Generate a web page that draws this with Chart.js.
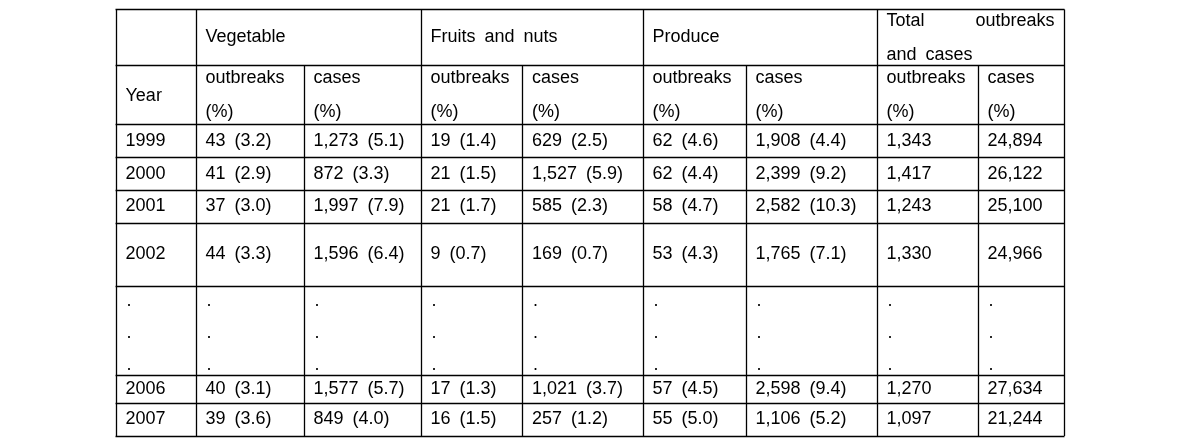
<!DOCTYPE html>
<html>
<head>
<meta charset="utf-8">
<script src="https://cdn.jsdelivr.net/npm/chart.js@4/dist/chart.umd.min.js"></script>
<style>
  html, body { margin: 0; padding: 0; background: #ffffff; }
  #c { display: block; }
</style>
</head>
<body>
<canvas id="c" width="1190" height="446"></canvas>
<script>
// ---------- DATA ----------
const groupHeaders = ['Vegetable', 'Fruits and nuts', 'Produce', 'Total outbreaks and cases'];
const yearLabel = 'Year';
const subHeaders = [['outbreaks', '(%)'], ['cases', '(%)']];
const years = ['1999', '2000', '2001', '2002', null, '2006', '2007'];   // null = omitted years (…)

const vegOut        = [43, 41, 37, 44, null, 40, 39];
const vegOutPct     = [3.2, 2.9, 3.0, 3.3, null, 3.1, 3.6];
const vegCases      = [1273, 872, 1997, 1596, null, 1577, 849];
const vegCasesPct   = [5.1, 3.3, 7.9, 6.4, null, 5.7, 4.0];
const fruitOut      = [19, 21, 21, 9, null, 17, 16];
const fruitOutPct   = [1.4, 1.5, 1.7, 0.7, null, 1.3, 1.5];
const fruitCases    = [629, 1527, 585, 169, null, 1021, 257];
const fruitCasesPct = [2.5, 5.9, 2.3, 0.7, null, 3.7, 1.2];
const prodOut       = [62, 62, 58, 53, null, 57, 55];
const prodOutPct    = [4.6, 4.4, 4.7, 4.3, null, 4.5, 5.0];
const prodCases     = [1908, 2399, 2582, 1765, null, 2598, 1106];
const prodCasesPct  = [4.4, 9.2, 10.3, 7.1, null, 9.4, 5.2];
const totalOut      = [1343, 1417, 1243, 1330, null, 1270, 1097];
const totalCases    = [24894, 26122, 25100, 24966, null, 27634, 21244];

// ---------- LAYOUT (relative column widths / row heights) ----------
const COL_W = [80, 108, 117, 101.5, 120.5, 103, 131, 101, 86];
const ROW_H = [56, 59, 33, 32.5, 33, 63, 89, 28, 33];
const PAD = 9.5;
const LINE_H = 34;
const FONT = '18px "Liberation Sans", Arial, sans-serif';

const cum = a => a.reduce((acc, v) => { acc.push(acc[acc.length - 1] + v); return acc; }, [0]);
const colEdges = cum(COL_W);
const rowEdges = cum(ROW_H);
const totalW = colEdges[colEdges.length - 1];
const totalH = rowEdges[rowEdges.length - 1];

const fmtN = v => v.toLocaleString('en-US');
const fmtP = (n, p) => fmtN(n) + ' (' + p.toFixed(1) + ')';

function dataRowCells(i) {
  if (years[i] === null) return null;
  return [
    years[i],
    fmtP(vegOut[i], vegOutPct[i]),
    fmtP(vegCases[i], vegCasesPct[i]),
    fmtP(fruitOut[i], fruitOutPct[i]),
    fmtP(fruitCases[i], fruitCasesPct[i]),
    fmtP(prodOut[i], prodOutPct[i]),
    fmtP(prodCases[i], prodCasesPct[i]),
    fmtN(totalOut[i]),
    fmtN(totalCases[i])
  ];
}

const tablePlugin = {
  id: 'tablePlugin',
  afterDraw(chart) {
    const ctx = chart.ctx;
    const xs = chart.scales.x, ys = chart.scales.y;
    const X = v => xs.getPixelForValue(v);
    const Y = v => ys.getPixelForValue(v);
    const crisp = p => Math.round(p - 0.5) + 0.5;

    ctx.save();
    // ---- grid lines ----
    ctx.strokeStyle = '#000';
    ctx.lineWidth = 1.3;
    ctx.beginPath();
    rowEdges.forEach(r => {
      const y = crisp(Y(r));
      ctx.moveTo(X(0) - 0.5, y); ctx.lineTo(X(totalW) + 0.5, y);
    });
    colEdges.forEach((c, k) => {
      const x = crisp(X(c));
      // sub-column splits start below the group header row
      const startRow = (k === 2 || k === 4 || k === 6 || k === 8) ? rowEdges[1] : 0;
      ctx.moveTo(x, Y(startRow)); ctx.lineTo(x, Y(totalH));
    });
    ctx.stroke();

    // ---- text ----
    ctx.fillStyle = '#000';
    ctx.font = FONT;
    ctx.textBaseline = 'middle';
    ctx.textAlign = 'left';
    try { ctx.wordSpacing = '4px'; } catch (e) {}

    const cellX = c => X(colEdges[c]) + PAD;
    const midY = r => (Y(rowEdges[r]) + Y(rowEdges[r + 1])) / 2;

    // group header row
    for (let g = 0; g < 3; g++) {
      ctx.fillText(groupHeaders[g], cellX(1 + 2 * g), midY(0) - 0.5);
    }
    // "Total outbreaks and cases" justified over two lines
    {
      const left = cellX(7), right = X(colEdges[9]) - PAD;
      const words = groupHeaders[3].split(' ');
      const y0 = midY(0) - LINE_H / 2 + 1;
      ctx.textAlign = 'left';
      ctx.fillText(words[0], left, y0);
      ctx.textAlign = 'right';
      ctx.fillText(words[1], right, y0);
      ctx.textAlign = 'left';
      ctx.fillText(words.slice(2).join(' '), left, y0 + LINE_H);
    }
    // sub header row
    ctx.fillText(yearLabel, cellX(0), midY(1) + 1);
    for (let c = 1; c <= 8; c++) {
      const sh = subHeaders[(c - 1) % 2];
      ctx.fillText(sh[0], cellX(c), midY(1) - LINE_H / 2);
      ctx.fillText(sh[1], cellX(c), midY(1) + LINE_H / 2);
    }
    // data rows
    years.forEach((yr, i) => {
      const r = i + 2;
      const cells = dataRowCells(i);
      if (cells) {
        cells.forEach((t, c) => ctx.fillText(t, cellX(c), midY(r)));
      } else {
        for (let c = 0; c <= 8; c++) {
          for (let k = -1; k <= 1; k++) {
            ctx.fillText('.', cellX(c) + 1, midY(r) + 3 + k * 32);
          }
        }
      }
    });
    ctx.restore();
  }
};

new Chart(document.getElementById('c'), {
  type: 'scatter',
  data: { datasets: [] },
  options: {
    responsive: false,
    animation: false,
    events: [],
    layout: { padding: { left: 116, right: 126, top: 9.5, bottom: 10 } },
    plugins: { legend: { display: false }, tooltip: { enabled: false } },
    scales: {
      x: { type: 'linear', min: 0, max: totalW, display: false },
      y: { type: 'linear', min: 0, max: totalH, reverse: true, display: false }
    }
  },
  plugins: [tablePlugin]
});
</script>
</body>
</html>
